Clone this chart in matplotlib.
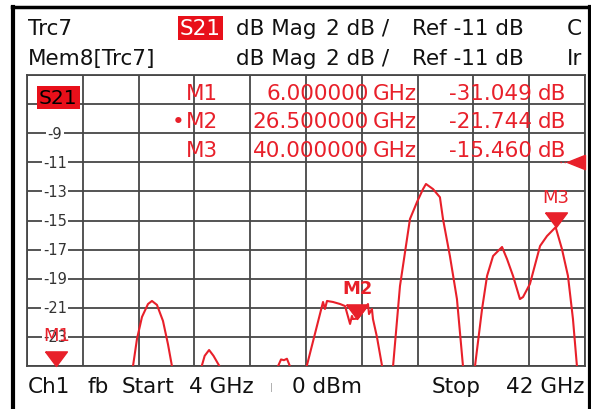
import matplotlib
matplotlib.use("Agg")
import matplotlib.pyplot as plt
import matplotlib.transforms as mtransforms
from matplotlib.lines import Line2D
from matplotlib.path import Path
from matplotlib.markers import MarkerStyle

# trace Trc7 (S21, dB Mag), values below -25 dB are off screen
freq_ghz = [4.0, 5.0, 6.0, 7.5, 9.0, 10.5, 11.22, 11.49, 11.83, 12.24, 12.51, 12.85,
            13.26, 13.6, 13.87, 14.8, 15.9, 16.1, 16.4, 16.7, 17.1, 17.5, 19.5,
            21.1, 21.3, 21.5, 21.7, 21.9, 22.3, 22.75, 24.16, 24.29, 24.43, 24.84,
            25.32, 25.66, 26.0, 26.13, 26.2, 26.5, 27.02, 27.22, 27.29, 27.49, 27.56,
            27.83, 28.18, 28.5, 28.93, 29.4, 30.08, 30.56, 30.97, 31.17, 31.65,
            32.12, 32.33, 32.8, 33.28, 33.69, 34.1, 34.51, 34.99, 35.33, 35.74,
            36.35, 36.69, 37.1, 37.57, 37.78, 38.25, 38.94, 39.41, 40.0, 40.43,
            40.84, 41.18, 41.45, 42.0]
s21_db = [-29.5, -30.5, -31.049, -30.0, -33.0, -28.0, -25.0, -23.14, -21.63, -20.74,
          -20.53, -20.8, -21.9, -23.5, -25.0, -32.0, -25.0, -24.3, -23.9, -24.3,
          -25.0, -27.0, -30.0, -25.0, -24.55, -24.6, -24.5, -25.0, -27.0, -26.2,
          -20.6, -21.08, -20.53, -20.6, -20.74, -20.88, -22.11, -21.56, -21.77,
          -21.744, -21.08, -20.74, -21.43, -21.08, -21.77, -23.0, -25.0, -29.0,
          -25.0, -19.5, -14.9, -13.73, -12.84, -12.49, -12.84, -13.4, -14.9,
          -17.44, -20.4, -25.0, -30.0, -25.0, -21.08, -18.81, -17.44, -16.82,
          -17.65, -18.81, -20.4, -20.26, -19.36, -16.75, -16.07, -15.46, -16.96,
          -18.81, -21.77, -25.0, -32.0]

marker_names = ["M1", "M2", "M3"]
marker_freq = [6.0, 26.5, 40.0]
marker_db = [-31.049, -21.744, -15.460]

f_start, f_stop = 4.0, 42.0
ref_level = -11.0
db_per_div = 2.0
y_labels = [-9, -11, -13, -15, -17, -19, -21, -23]

RED = "#e8202a"
GRID = "#474747"
W, H = 594, 410
FS = 15.5


def fx(x):
    return x / W


def fy(y):
    return 1 - y / H


fig = plt.figure(figsize=(W / 100, H / 100), dpi=100)
fig.patch.set_facecolor("white")
plt.rcParams["font.family"] = ["DejaVu Sans"]

ax = fig.add_axes([fx(27), fy(367), (585 - 27) / W, (367 - 76) / H])
ymin = ref_level - 7 * db_per_div
ymax = ref_level + 3 * db_per_div
ax.set_xlim(f_start, f_stop)
ax.set_ylim(ymin, ymax)
step = (f_stop - f_start) / 10
ax.set_xticks([f_start + i * step for i in range(11)])
ax.set_yticks([ymin + i * db_per_div for i in range(11)])
ax.grid(True, color=GRID, lw=1.3)
ax.tick_params(left=False, bottom=False, labelleft=False, labelbottom=False)
for s in ax.spines.values():
    s.set_color(GRID)
    s.set_linewidth(1.3)

ax.plot(freq_ghz, s21_db, color=RED, lw=1.5, zorder=3)

# y labels inside first column
blend = mtransforms.blended_transform_factory(ax.transAxes, ax.transData)
for v in y_labels:
    ax.text(0.05, v, str(v), transform=blend, ha="center", va="center",
            fontsize=10.5, color="#333333", zorder=4,
            bbox=dict(boxstyle="square,pad=0.1", fc="white", ec="none"))

# ref level arrow, base on the right edge
ref_tri = MarkerStyle(Path([(0.0, 0.4), (0.0, -0.4), (-1.0, 0.0), (0.0, 0.4)]))
ax.plot([1.0], [ref_level], marker=ref_tri, ms=26, color=RED, transform=blend,
        clip_on=False, zorder=5)
ax.plot([0.955, 0.975], [ref_level, ref_level], color=RED, lw=1, ls=(0, (1, 2)),
        transform=blend, zorder=5)

# marker triangles, tip at the value (clipped to bottom)
tri = MarkerStyle(Path([(-0.75, 1.0), (0.75, 1.0), (0.0, 0.0), (-0.75, 1.0)]))
for name, f, v in zip(marker_names, marker_freq, marker_db):
    yv = max(v, ymin)
    ax.plot([f], [yv], marker=tri, ms=21, color=RED, ls="none",
            clip_on=False, zorder=6)
    ax.annotate(name, (f, yv), xytext=(0, 22), textcoords="offset points",
                ha="center", va="center", fontsize=13, color=RED,
                fontweight="bold" if name == "M2" else "normal", zorder=6)

# S21 tag inside diagram
fig.text(fx(39), fy(104), "S21", fontsize=14.5, color="black", va="baseline",
         bbox=dict(boxstyle="square,pad=0.1", fc="#e8101a", ec="none"))

# marker table
rows_y = [100, 128, 157]
for name, f, v, yb in zip(marker_names, marker_freq, marker_db, rows_y):
    kw = dict(fontsize=FS, color=RED, va="baseline")
    if name == "M2":
        fig.text(fx(172), fy(yb), "•", **kw)
    fig.text(fx(186), fy(yb), name, ha="left", **kw)
    fig.text(fx(369), fy(yb), f"{f:.6f}", ha="right", **kw)
    fig.text(fx(373), fy(yb), "GHz", ha="left", **kw)
    fig.text(fx(532), fy(yb), f"{v:.3f}", ha="right", **kw)
    fig.text(fx(538), fy(yb), "dB", ha="left", **kw)

# header
hk = dict(fontsize=FS, color="#111111", va="baseline")
fig.text(fx(28), fy(35), "Trc7", **hk)
fig.text(fx(180), fy(35), "S21", fontsize=FS, color="white", va="baseline",
         bbox=dict(boxstyle="square,pad=0.08", fc="#e8101a", ec="none"))
fig.text(fx(28), fy(65), "Mem8[Trc7]", **hk)
for yb, last in [(35, "C"), (65, "Ir")]:
    fig.text(fx(236), fy(yb), "dB Mag", **hk)
    fig.text(fx(326), fy(yb), "2 dB /", **hk)
    fig.text(fx(412), fy(yb), "Ref -11 dB", **hk)
    fig.text(fx(567), fy(yb), last, **hk)

# footer
fk = dict(fontsize=FS, color="#111111", va="baseline")
fig.text(fx(28), fy(393), "Ch1", **fk)
fig.text(fx(87), fy(393), "fb", **fk)
fig.text(fx(122), fy(393), "Start", **fk)
fig.text(fx(189), fy(393), "4 GHz", **fk)
fig.text(fx(270), fy(390), "|", fontsize=6, color="#999999", va="baseline")
fig.text(fx(292), fy(393), "0 dBm", **fk)
fig.text(fx(432), fy(393), "Stop", **fk)
fig.text(fx(584), fy(393), "42 GHz", ha="right", **fk)

# window frame
fig.add_artist(Line2D([fx(13), fx(13)], [fy(8), 0], color="black", lw=3))
fig.add_artist(Line2D([fx(12), fx(591)], [fy(8), fy(8)], color="black", lw=2.5))
fig.add_artist(Line2D([fx(590), fx(590)], [fy(8), 0], color="black", lw=3))
# hide text running past the right frame
fig.add_artist(plt.Rectangle((fx(591), 0), 1 - fx(591), 1, transform=fig.transFigure,
                             fc="white", ec="none", zorder=10))

fig.savefig("out.png", dpi=100)
